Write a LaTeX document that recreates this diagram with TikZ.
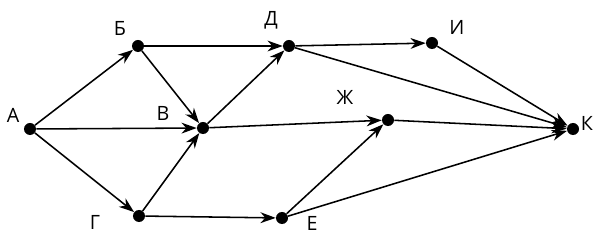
\documentclass[tikz,border=0pt]{standalone}
\usepackage{fontspec}
\setmainfont{Open Sans}
\usetikzlibrary{arrows.meta}
\tikzset{
  vertex/.style={circle, fill=black, inner sep=0pt, minimum size=0.3cm},
  vname/.style={inner sep=0pt, font=\fontsize{14}{16}\selectfont},
  edge/.style={-{Stealth[length=0.38cm, width=0.27cm, inset=0.12cm]}, line width=1.1pt}
}
\begin{document}
\begin{tikzpicture}[x=0.025cm,y=-0.025cm]
\useasboundingbox (0,0) rectangle (601,249);
\node[vertex] (A) at (30,129) {};
\node[vertex] (B) at (138,46) {};
\node[vertex] (V) at (203,128) {};
\node[vertex] (G) at (139,216) {};
\node[vertex] (D) at (289,46) {};
\node[vertex] (E) at (282,218) {};
\node[vertex] (Zh) at (388,120) {};
\node[vertex] (I) at (432,43) {};
\node[vertex] (K) at (573,129) {};

\node[vname] (lA) at (13,115) {А};
\node[vname] (lB) at (120,28) {Б};
\node[vname] (lV) at (163,113) {В};
\node[vname] (lG) at (95,222) {Г};
\node[vname] (lD) at (271,20) {Д};
\node[vname] (lE) at (312,223) {Е};
\node[vname] (lZh) at (345,97) {Ж};
\node[vname] (lI) at (457,27) {И};
\node[vname] (lK) at (587,123) {К};

\draw[edge] (A) -- (B);
\draw[edge] (A) -- (V);
\draw[edge] (A) -- (G);
\draw[edge] (B) -- (D);
\draw[edge] (B) -- (V);
\draw[edge] (G) -- (V);
\draw[edge] (G) -- (E);
\draw[edge] (V) -- (D);
\draw[edge] (V) -- (Zh);
\draw[edge] (E) -- (Zh);
\draw[edge] (D) -- (I);
\draw[edge] (D) -- (K);
\draw[edge] (I) -- (K);
\draw[edge] (Zh) -- (K);
\draw[edge] (E) -- (K);
\end{tikzpicture}
\end{document}
